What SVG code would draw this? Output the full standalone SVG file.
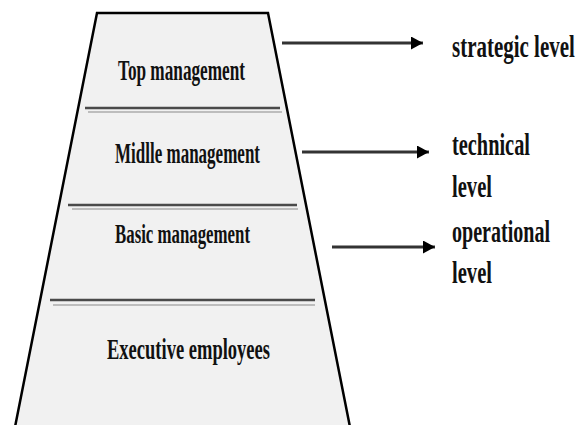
<svg xmlns="http://www.w3.org/2000/svg" width="584" height="425" viewBox="0 0 584 425">
<defs>
<style>
.lbl{font-family:"Liberation Serif","Times New Roman",serif;font-weight:bold;fill:#111}
.div{stroke:#4a4a4a;stroke-width:2.5}
.sh{stroke:#bdbdbd;stroke-width:2}
.arr{stroke:#333;stroke-width:3;fill:none}
</style>
<marker id="ah" markerUnits="userSpaceOnUse" markerWidth="12" markerHeight="13" refX="12" refY="6.5" orient="auto">
<path d="M0,0 L12,6.5 L0,13 Z" fill="#000"/>
</marker>
</defs>
<rect width="584" height="425" fill="#fff"/>
<g id="pyramid">
<polygon points="97,13 268,13 350,427 15,427" fill="#f1f1f1" stroke="#000" stroke-width="2.5"/>
<line class="sh" x1="88" y1="112" x2="282" y2="112"/>
<line class="div" x1="85" y1="108" x2="280" y2="108"/>
<line class="sh" x1="72" y1="209" x2="298" y2="209"/>
<line class="div" x1="68" y1="205" x2="297" y2="205"/>
<line class="sh" x1="53" y1="305" x2="315" y2="305"/>
<line class="div" x1="50" y1="300" x2="315" y2="300"/>
</g>
<g id="top">
<text class="lbl" x="118" y="80" font-size="29" textLength="127" lengthAdjust="spacingAndGlyphs">Top management</text>
</g>
<g id="middle">
<text class="lbl" x="115" y="163" font-size="29" textLength="145" lengthAdjust="spacingAndGlyphs">Midlle management</text>
</g>
<g id="basic">
<text class="lbl" x="115" y="243" font-size="27" textLength="135" lengthAdjust="spacingAndGlyphs">Basic management</text>
</g>
<g id="executive">
<text class="lbl" x="107" y="359" font-size="30" textLength="163" lengthAdjust="spacingAndGlyphs">Executive employees</text>
</g>
<g id="connectors">
<line class="arr" x1="282" y1="43" x2="423" y2="43" marker-end="url(#ah)"/>
<line class="arr" x1="302" y1="152" x2="429" y2="152" marker-end="url(#ah)"/>
<line class="arr" x1="332" y1="247" x2="435" y2="247" marker-end="url(#ah)"/>
</g>
<g id="strategic">
<text class="lbl" transform="translate(452,57) scale(0.69,1)" x="0" y="0" font-size="32" textLength="178" lengthAdjust="spacingAndGlyphs">strategic level</text>
</g>
<g id="technical">
<text class="lbl" transform="translate(452,155) scale(0.69,1)" x="0" y="0" font-size="32" textLength="113" lengthAdjust="spacingAndGlyphs">technical</text>
<text class="lbl" transform="translate(452,197) scale(0.69,1)" x="0" y="0" font-size="32" textLength="58" lengthAdjust="spacingAndGlyphs">level</text>
</g>
<g id="operational">
<text class="lbl" transform="translate(452,242) scale(0.69,1)" x="0" y="0" font-size="32" textLength="142" lengthAdjust="spacingAndGlyphs">operational</text>
<text class="lbl" transform="translate(452,283) scale(0.69,1)" x="0" y="0" font-size="32" textLength="58" lengthAdjust="spacingAndGlyphs">level</text>
</g>
</svg>
